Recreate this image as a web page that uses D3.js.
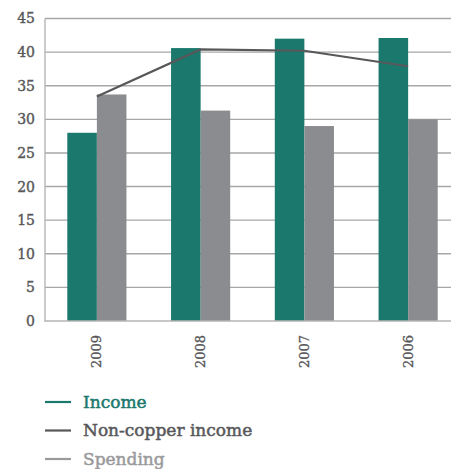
<!DOCTYPE html>
<html>
<head>
<meta charset="utf-8">
<script src="https://cdn.jsdelivr.net/npm/d3@7"></script>
<style>
  html, body { margin: 0; padding: 0; background: #fff; }
  svg { display: block; }
  text { font-family: "DejaVu Serif", serif; }
</style>
</head>
<body>
<svg id="chart" width="451" height="469"></svg>
<script>
// Years shown on the category axis
const years = ["2009", "2008", "2007", "2006"];
// Series values
const income = [28.0, 40.6, 42.0, 42.1];
const spending = [33.7, 31.3, 29.0, 30.0];
const nonCopperIncome = [33.4, 40.4, 40.2, 37.9];
// Value axis ticks
const yTicks = [0, 5, 10, 15, 20, 25, 30, 35, 40, 45];

const colors = { income: "#1b786c", spending: "#8b8c8f", nonCopper: "#58585a" };

const svg = d3.select("#chart");

const x = d3.scaleBand().domain(years).range([45, 460]).paddingInner(0.43).paddingOuter(0.215);
const y = d3.scaleLinear().domain([0, 45]).range([321, 18.5]);
const sub = d3.scaleBand().domain(["income", "spending"]).range([0, x.bandwidth()]);

// Horizontal gridlines
svg.append("g")
  .selectAll("line")
  .data(yTicks.filter(d => d > 0))
  .join("line")
  .attr("x1", 45).attr("x2", 451)
  .attr("y1", d => y(d)).attr("y2", d => y(d))
  .attr("stroke", "#a7a7a7").attr("stroke-width", 1.4);

// Bars
const groups = svg.append("g")
  .selectAll("g")
  .data(years.map((yr, i) => ({ yr, income: income[i], spending: spending[i] })))
  .join("g")
  .attr("transform", d => `translate(${x(d.yr)},0)`);

groups.selectAll("rect")
  .data(d => ["income", "spending"].map(k => ({ k, v: d[k] })))
  .join("rect")
  .attr("x", d => sub(d.k))
  .attr("width", sub.bandwidth())
  .attr("y", d => y(d.v))
  .attr("height", d => y(0) - y(d.v))
  .attr("fill", d => colors[d.k]);

// Non-copper income line
const line = d3.line()
  .x((d, i) => x(years[i]) + x.bandwidth() / 2)
  .y(d => y(d));
svg.append("path")
  .datum(nonCopperIncome)
  .attr("d", line)
  .attr("fill", "none")
  .attr("stroke", colors.nonCopper)
  .attr("stroke-width", 2.2);

// Axes frame
svg.append("line").attr("x1", 45).attr("x2", 45).attr("y1", 18.5).attr("y2", 321.5)
  .attr("stroke", "#b5b5b5").attr("stroke-width", 1.4);
svg.append("line").attr("x1", 44.3).attr("x2", 451).attr("y1", 321).attr("y2", 321)
  .attr("stroke", "#b5b5b5").attr("stroke-width", 1.6);

// Y axis labels
const yAxis = d3.axisLeft(y).tickValues(yTicks).tickSize(0).tickPadding(10);
const gy = svg.append("g").attr("transform", "translate(45,0)").call(yAxis);
gy.select(".domain").remove();
gy.selectAll("text")
  .attr("fill", "#58585a")
  .attr("stroke", "#58585a").attr("stroke-width", 0.4)
  .style("font-size", "14px")
  .style("font-family", "'DejaVu Serif', serif");

// X axis labels, rotated
const xAxis = d3.axisBottom(x).tickSize(0).tickPadding(0);
const gx = svg.append("g").attr("transform", "translate(0,321)").call(xAxis);
gx.select(".domain").remove();
gx.selectAll("text")
  .attr("fill", "#58585a")
  .attr("stroke", "#58585a").attr("stroke-width", 0.35)
  .style("font-size", "13px")
  .style("font-family", "'DejaVu Serif', serif")
  .attr("text-anchor", "end")
  .attr("dy", "0.35em")
  .attr("transform", "translate(0,14) rotate(-90)");

// Legend
const legendItems = [
  { label: "Income", color: colors.income, text: "#1b786c" },
  { label: "Non-copper income", color: colors.nonCopper, text: "#58585a" },
  { label: "Spending", color: "#9a9a9c", text: "#9a9a9c" }
];
const legend = svg.append("g")
  .selectAll("g")
  .data(legendItems)
  .join("g")
  .attr("transform", (d, i) => `translate(45,${402 + i * 28.5})`);
legend.append("line")
  .attr("x1", 0).attr("x2", 26)
  .attr("stroke", d => d.color).attr("stroke-width", 2.2);
legend.append("text")
  .attr("x", 38).attr("dy", "0.35em")
  .attr("fill", d => d.text)
  .attr("stroke", d => d.text).attr("stroke-width", 0.5)
  .style("font-size", "17px")
  .text(d => d.label);
</script>
</body>
</html>
